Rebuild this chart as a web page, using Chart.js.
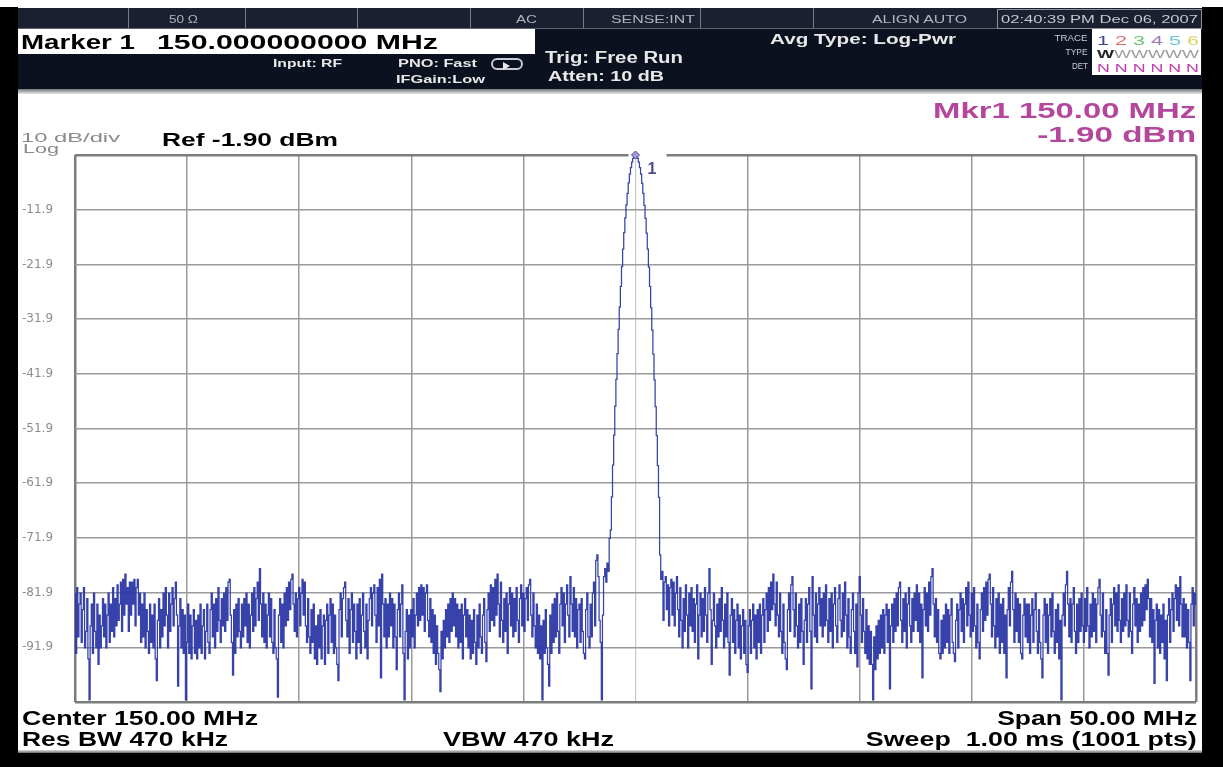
<!DOCTYPE html>
<html>
<head>
<meta charset="utf-8">
<title>Spectrum Analyzer – Swept SA</title>
<script src="https://cdn.jsdelivr.net/npm/chart.js@4.4.1/dist/chart.umd.min.js"></script>
<style>
  html, body { margin: 0; padding: 0; background: #fff; }
  #screen { position: relative; width: 1223px; height: 767px; overflow: hidden; background: #fff;
            font-family: "Liberation Sans", Arial, sans-serif; }
  .box { position: absolute; }
  .t { position: absolute; white-space: nowrap; line-height: 1; transform-origin: 0 50%; }
  .t.r { transform-origin: 100% 50%; }
  .st { color: #aeb3bd; }
  .hw { color: #e8e8e8; font-weight: bold; }
  .ft { color: #000; font-weight: bold; }
  .mk { color: #b4479c; font-weight: bold; }
  #plot { position: absolute; left: 0; top: 0; }
</style>
</head>
<body>
<div id="screen">
  <!-- instrument header -->
  <div class="box" style="left:18px;top:8px;width:1184px;height:81px;background:#0c1120"></div>
  <div class="box" style="left:18px;top:8px;width:1184px;height:20px;background:#1b2030;border-bottom:1px solid #5d626e"></div>
  <div class="box" style="left:128px;top:8px;width:1px;height:20px;background:#767b86"></div>
  <div class="box" style="left:245px;top:8px;width:1px;height:20px;background:#767b86"></div>
  <div class="box" style="left:357px;top:8px;width:1px;height:20px;background:#767b86"></div>
  <div class="box" style="left:470px;top:8px;width:1px;height:20px;background:#767b86"></div>
  <div class="box" style="left:583px;top:8px;width:1px;height:20px;background:#767b86"></div>
  <div class="box" style="left:700px;top:8px;width:1px;height:20px;background:#767b86"></div>
  <div class="box" style="left:813px;top:8px;width:1px;height:20px;background:#767b86"></div>
  <div class="box" style="left:997px;top:9px;width:203px;height:18px;border:1px solid #8d929c"></div>
  <div class="box" style="left:18px;top:89px;width:1184px;height:5px;background:linear-gradient(#70747c,#e8e8e8)"></div>
  <div class="box" style="left:18px;top:29px;width:517px;height:25px;background:#fff"></div>
  <div class="box" style="left:1092px;top:29px;width:109px;height:46px;background:#fff"></div>
  <!-- trigger-mode icon -->
  <div class="box" style="left:491px;top:58px;width:28px;height:8px;border:2px solid #c9ccd2;border-radius:6px"></div>
  <div class="box" style="left:503px;top:62px;width:0;height:0;border-top:4px solid transparent;border-bottom:4px solid transparent;border-left:7px solid #e8e8e8"></div>

  <!-- bezel -->
  <div class="box" style="left:18px;top:750px;width:1184px;height:3px;background:linear-gradient(#e0e0e0,#6a6a6a)"></div>
  <div class="box" style="left:0;top:7px;width:18px;height:760px;background:#000"></div>
  <div class="box" style="left:1202px;top:7px;width:21px;height:760px;background:#000"></div>
  <div class="box" style="left:0;top:753px;width:1223px;height:14px;background:#000"></div>

  <canvas id="plot" width="1223" height="767"></canvas>

  <!-- status line -->
  <div class="t st" data-x="169" data-b="23" data-f="10" data-w="29">50 Ω</div>
  <div class="t st" data-x="516" data-b="23" data-f="10" data-w="21">AC</div>
  <div class="t st" data-x="611" data-b="23" data-f="10" data-w="84">SENSE:INT</div>
  <div class="t st" data-x="872" data-b="23" data-f="10" data-w="95">ALIGN AUTO</div>
  <div class="t st" data-x="1001" data-b="23" data-f="10" data-w="197" style="color:#c4c8d0">02:40:39 PM Dec 06, 2007</div>

  <!-- active function / settings -->
  <div class="t ft" data-x="21" data-b="49" data-f="21" data-w="114">Marker 1</div>
  <div class="t ft" id="mkrEntry" data-x="157" data-b="49" data-f="21" data-w="281"></div>
  <div class="t hw" data-x="273" data-b="67" data-f="11" data-w="69">Input: RF</div>
  <div class="t hw" data-x="398" data-b="67" data-f="11" data-w="79">PNO: Fast</div>
  <div class="t hw" data-x="396" data-b="83" data-f="11" data-w="89">IFGain:Low</div>
  <div class="t hw" data-x="545" data-b="64" data-f="16" data-w="138">Trig: Free Run</div>
  <div class="t hw" data-x="548" data-b="81" data-f="15" data-w="116">Atten: 10 dB</div>
  <div class="t hw" data-x="770" data-b="44" data-f="15" data-w="186">Avg Type: Log-Pwr</div>

  <!-- trace table -->
  <div class="t r st" data-r="1088" data-b="42" data-f="9" data-w="33" style="color:#c8ccd4">TRACE</div>
  <div class="t r st" data-r="1088" data-b="56" data-f="9" data-w="22" style="color:#c8ccd4">TYPE</div>
  <div class="t r st" data-r="1088" data-b="70" data-f="9" data-w="16" style="color:#c8ccd4">DET</div>
  <div class="t" data-x="1097" data-b="45" data-f="13" data-w="102"><span style="color:#3c4696">1</span> <span style="color:#e26a6a">2</span> <span style="color:#6cc46c">3</span> <span style="color:#a07ab8">4</span> <span style="color:#6cc8d0">5</span> <span style="color:#dcd46a">6</span></div>
  <div class="t" data-x="1097" data-b="58" data-f="10" data-w="102"><span style="color:#222;font-weight:bold">W</span><span style="color:#9a9a9a">WWWWW</span></div>
  <div class="t" data-x="1097" data-b="72" data-f="11" data-w="102" style="color:#c03cb0">N N N N N N</div>

  <!-- marker readout -->
  <div class="t r mk" id="mkrFreq" data-r="1196" data-b="119" data-f="22" data-w="263"></div>
  <div class="t r mk" id="mkrAmpl" data-r="1196" data-b="143" data-f="22" data-w="159"></div>

  <!-- scale annotations -->
  <div class="t" data-x="21" data-b="142" data-f="13" data-w="99" style="color:#8a8a8a">10 dB/div</div>
  <div class="t" data-x="23" data-b="153" data-f="12" data-w="36" style="color:#8a8a8a">Log</div>
  <div class="t ft" id="refLabel" data-x="162" data-b="146" data-f="18" data-w="176"></div>

  <!-- sweep settings -->
  <div class="t ft" data-x="22" data-b="725" data-f="20" data-w="236">Center 150.00 MHz</div>
  <div class="t ft" data-x="22" data-b="746" data-f="20" data-w="206">Res BW 470 kHz</div>
  <div class="t ft" data-x="443" data-b="746" data-f="20" data-w="171">VBW 470 kHz</div>
  <div class="t r ft" data-r="1197" data-b="725" data-f="20" data-w="200">Span 50.00 MHz</div>
  <div class="t r ft" data-r="1197" data-b="746" data-f="20" data-w="331">Sweep&nbsp;&nbsp;1.00 ms (1001 pts)</div>
</div>

<script>
// Sweep: Center 150 MHz, Span 50 MHz, 1001 points
const startMHz = 125;
const stopMHz = 175;
const refLevelDbm = -1.9;
const markerMHz = 150;
const markerDbm = -1.9;

// Graticule
const freqGridMHz = [125, 130, 135, 140, 145, 150, 155, 160, 165, 170, 175];
const levelGridDbm = [-101.9, -91.9, -81.9, -71.9, -61.9, -51.9, -41.9, -31.9, -21.9, -11.9, -1.9];
const levelTickLabels = ['', '-91.9', '-81.9', '-71.9', '-61.9', '-51.9', '-41.9', '-31.9', '-21.9', '-11.9', ''];

// Trace 1 amplitude (dBm), one value per sweep point
const traceDbm = [
  -82,-93,-81,-90,-84,-82,-91,-85,-81,-92,
  -89,-83,-94,-101.5,-88,-84,-93,-82,-89,-92,
  -84,-95,-86,-92,-88,-83,-90,-84,-92,-86,
  -82,-91,-84,-89,-81,-90,-83,-88,-80.5,-87,
  -84,-80,-89,-79.5,-86,-78.5,-84,-81,-89,-80,
  -86,-80,-84,-79.5,-88,-81,-79.5,-86,-82,-91,
  -84,-90,-82,-92,-85,-89,-93,-84,-91,-86,
  -92,-84,-94,-98,-87,-83,-92,-85,-90,-82,
  -88,-81,-86,-92,-82,-89,-84,-81,-88,-83,
  -80,-86,-99,-88,-83,-92,-85,-93,-86,-101.5,
  -91,-84,-93,-86,-94,-88,-85,-93,-87,-94,
  -86,-92,-84,-93,-88,-85,-94,-89,-84,-91,
  -93,-85,-82,-90,-84,-92,-83,-89,-81,-87,
  -91,-83,-88,-82,-89,-81,-87,-80,-79.5,-86,
  -91,-97,-85,-93,-84,-90,-83,-89,-92,-84,
  -90,-83,-88,-82,-91,-84,-92,-86,-82,-89,
  -81,-88,-83,-80,-87,-77.5,-84,-90,-82,-91,
  -84,-92,-86,-82,-90,-83,-91,-93,-85,-92,
  -94,-101,-86,-83,-91,-84,-92,-82,-88,-81,
  -87,-80,-85,-79.5,-78.5,-84,-89,-82,-90,-83,
  -81,-88,-82,-79.5,-86,-80,-88,-91,-83,-90,
  -93,-85,-91,-84,-94,-88,-95,-86,-92,-85,
  -94,-88,-86,-95,-87,-84,-93,-86,-83,-91,
  -84,-93,-86,-92,-95,-98,-85,-82,-90,-83,
  -81,-80,-87,-90,-83,-93,-85,-82,-91,-84,
  -89,-94,-84,-91,-83,-93,-86,-82,-89,-92,
  -84,-94,-87,-83,-81,-88,-82,-80.5,-86,-91,
  -81,-88,-79.5,-97.5,-78.5,-84,-90,-83,-92,-84,
  -90,-82,-88,-83,-92,-84,-90,-96,-85,-82,
  -90,-84,-80.5,-93,-101.5,-89,-85,-94,-86,-92,
  -85,-90,-83,-92,-86,-82,-88,-81,-87,-80.5,
  -86,-81,-89,-82,-80.5,-87,-90,-83,-91,-85,
  -93,-86,-95,-88,-93,-96,-100,-89,-94,-87,
  -92,-85,-90,-84,-91,-83,-89,-82,-88,-83,
  -90,-84,-92,-85,-91,-84,-94,-86,-83,-90,
  -85,-92,-86,-94,-87,-93,-85,-91,-95,-86,
  -92,-84,-90,-93,-86,-83,-91,-94.5,-85,-82,
  -89,-80.5,-87,-81,-88,-79.5,-86,-78.5,-84,-90,
  -80,-87,-91,-83,-89,-82,-93,-84,-81,-88,
  -82,-90,-83,-89,-81,-87,-91,-83,-80.5,-88,
  -82,-89,-83,-81,-87,-80.5,-79.5,-86,-90,-82,
  -88,-92,-84,-93,-86,-94,-88,-101.5,-87,-93,
  -85,-92,-95,-99,-86,-93,-84,-91,-83,-90,
  -82,-89,-93,-84,-81,-88,-82,-91,-84,-80.5,
  -86,-90,-79,-84,-89,-81,-90,-83,-92,-85,
  -84,-91,-83,-89,-93,-94,-85,-82,-90,-92,
  -84,-90,-82,-80,-88,-76,-75,-79,-87,-91,
  -101.5,-86,-79,-77.5,-80,-76.5,-78,-72,-70.5,-64.4,
  -58.6,-53.1,-47.8,-42.9,-38.2,-33.8,-29.7,-25.9,-22.3,-19.1,
  -16.1,-13.4,-11.0,-8.9,-7.0,-5.4,-4.2,-3.2,-2.5,-2.0,
  -1.9,-2.1,-2.5,-3.2,-4.2,-5.4,-7.1,-8.9,-11.1,-13.5,
  -16.2,-19.1,-22.4,-25.9,-29.8,-33.9,-38.3,-43.0,-47.9,-53.2,
  -58.7,-64.5,-75,-79.5,-78,-87,-80,-79,-85,-80.5,
  -88,-81,-79.5,-86,-80,-88,-82,-79,-85,-90,
  -81,-87,-92,-83,-89,-80.5,-86,-92,-82,-88,
  -81,-89,-83,-91,-84,-80.5,-94,-86,-82,-90,
  -83,-89,-81,-86,-91,-82,-77.5,-85,-95,-87,
  -82,-88,-92,-84,-90,-83,-89,-81,-87,-92,
  -84,-90,-82,-91,-97,-86,-83,-91,-85,-93,
  -87,-84,-92,-86,-94,-88,-85,-93,-87,-95,
  -96.5,-88,-85,-93,-87,-84,-92,-86,-94,-85,
  -91,-84,-93,-86,-83,-91,-85,-82,-89,-81,
  -87,-80,-85,-78.5,-84,-88,-80,-86,-90,-82,
  -89,-93,-84,-91,-94,-96,-85,-82,-89,-80.5,
  -79,-85,-90,-82,-88,-92,-84,-91,-83,-89,
  -95,-87,-83,-91,-84,-81,-89,-99.5,-79,-86,
  -90,-82,-91,-84,-81,-88,-83,-90,-82,-88,
  -80.5,-87,-91,-83,-89,-82,-92,-84,-81,-88,
  -91,-83,-80.5,-87,-90,-82,-89,-80,-86,-92,
  -83,-90,-93,-85,-82,-89,-93,-84,-95.5,-82,
  -79,-86,-91,-83,-89,-93,-85,-94,-88,-95,
  -89,-95,-101.5,-90,-96,-88,-94,-87,-93,-86,
  -92,-85,-93,-86,-84,-91,-85,-99.5,-88,-84,
  -91,-83,-89,-82,-88,-81,-80,-87,-91,-83,
  -89,-82,-92,-84,-81,-88,-91,-83,-89,-82,
  -87,-80.5,-89,-82,-91,-84,-97.5,-85,-81,-88,
  -82,-89,-80,-86,-79,-77.5,-84,-90,-83,-91,
  -85,-93,-94,-87,-93,-86,-92,-84,-91,-85,
  -93,-86,-83,-91,-93,-94.5,-87,-84,-92,-85,
  -82,-89,-83,-91,-84,-81,-88,-80,-86,-90,
  -82,-89,-81,-88,-92,-84,-91,-94,-85,-82,
  -89,-81,-87,-80,-86,-79.5,-78.5,-84,-90,-81,
  -88,-92,-83,-90,-82,-93,-84,-91,-83,-93,
  -86,-97.5,-85,-81,-88,-80,-78,-85,-91,-82,
  -89,-83,-91,-84,-93,-94,-86,-83,-90,-84,
  -91,-84,-93,-86,-83,-91,-85,-82,-89,-93,
  -85,-91,-94,-97.5,-86,-83,-91,-84,-93,-86,
  -83,-90,-82,-89,-93,-85,-91,-84,-94,-87,
  -101.5,-86,-82,-88,-80.5,-78,-84,-90,-83,-91,
  -84,-81,-89,-93,-84,-91,-83,-89,-82,-88,
  -91,-83,-89,-81,-88,-92,-84,-90,-82,-89,
  -83,-91,-84,-81,-79.5,-86,-90,-82,-89,-93,
  -85,-93,-97,-86,-83,-91,-84,-81,-88,-82,
  -89,-80.5,-87,-91,-83,-89,-82,-88,-80.5,-87,
  -90,-82,-89,-93,-84,-81,-88,-83,-91,-84,
  -89,-82,-88,-81,-87,-80.5,-85,-79.5,-83,-90,
  -83,-91,-85,-98.5,-87,-84,-92,-85,-93,-86,
  -91,-84,-94,-87,-98,-86,-83,-91,-85,-82,
  -89,-83,-80.5,-87,-81,-88,-79,-84,-90,-83,
  -90,-84,-92,-85,-91,-98,-84,-81,-88,-82,
  -84
];

// Readout texts derived from the instrument settings
document.getElementById('mkrEntry').textContent = markerMHz.toFixed(9) + ' MHz';
document.getElementById('mkrFreq').textContent = 'Mkr1 ' + markerMHz.toFixed(2) + ' MHz';
document.getElementById('mkrAmpl').textContent = markerDbm.toFixed(2) + ' dBm';
document.getElementById('refLabel').textContent = 'Ref ' + refLevelDbm.toFixed(2) + ' dBm';

// Place each annotation on its baseline and stretch it to its slot width
function placeText() {
  document.querySelectorAll('.t').forEach(el => {
    const f = +el.dataset.f, b = +el.dataset.b;
    el.style.fontSize = f + 'px';
    el.style.top = (b - 0.85 * f) + 'px';
    if (el.dataset.r !== undefined) el.style.right = (1223 - +el.dataset.r) + 'px';
    else el.style.left = el.dataset.x + 'px';
    el.style.transform = 'none';
    const w = el.getBoundingClientRect().width;
    if (el.dataset.w && w > 0) el.style.transform = 'scaleX(' + (+el.dataset.w / w).toFixed(4) + ')';
  });
}
placeText();
if (document.fonts && document.fonts.ready) document.fonts.ready.then(placeText);

const sweepPoints = traceDbm.map((v, i) => ({
  x: startMHz + i * (stopMHz - startMHz) / (traceDbm.length - 1),
  y: v
}));

// Marker 1: diamond on the trace and its "1" tag, which blanks the top graticule line
const markerPlugin = {
  id: 'marker1',
  beforeDatasetsDraw(chart) {
    const { ctx, chartArea, scales } = chart;
    const px = scales.x.getPixelForValue(markerMHz);
    ctx.save();
    ctx.fillStyle = '#ffffff';
    ctx.fillRect(px - 7, chartArea.top - 3, 38, 6);
    ctx.restore();
  },
  afterDatasetsDraw(chart) {
    const { ctx, scales } = chart;
    const px = scales.x.getPixelForValue(markerMHz);
    const py = scales.y.getPixelForValue(markerDbm);
    ctx.save();
    ctx.beginPath();
    ctx.moveTo(px, py - 4);
    ctx.lineTo(px + 4, py);
    ctx.lineTo(px, py + 4);
    ctx.lineTo(px - 4, py);
    ctx.closePath();
    ctx.fillStyle = '#a89ad8';
    ctx.fill();
    ctx.strokeStyle = '#4a4a98';
    ctx.lineWidth = 1;
    ctx.stroke();
    ctx.font = 'bold 16px "Liberation Sans", Arial, sans-serif';
    ctx.fillStyle = '#4a4c8c';
    ctx.textBaseline = 'alphabetic';
    ctx.fillText('1', px + 12, py + 19);
    ctx.restore();
  }
};

const frameColor = '#7c7c7c';
const gridColor = '#9a9a9a';

new Chart(document.getElementById('plot'), {
  type: 'line',
  data: {
    datasets: [{
      data: sweepPoints,
      borderColor: 'rgba(44,56,166,0.95)',
      borderWidth: 1.25,
      pointRadius: 0,
      stepped: 'middle',
      fill: false
    }]
  },
  options: {
    responsive: false,
    animation: false,
    events: [],
    layout: { padding: { left: 22, right: 27, top: 155, bottom: 65 } },
    plugins: { legend: { display: false }, tooltip: { enabled: false } },
    scales: {
      x: {
        type: 'linear',
        min: startMHz,
        max: stopMHz,
        afterBuildTicks: s => { s.ticks = freqGridMHz.map(v => ({ value: v })); },
        afterFit: s => { s.height = 0; },
        ticks: { display: false },
        border: { display: false },
        grid: {
          drawTicks: false,
          color: c => (c.index === 0 || c.index === freqGridMHz.length - 1) ? frameColor
                      : (c.tick && c.tick.value === markerMHz ? '#c8c8c8' : gridColor),
          lineWidth: c => (c.index === 0 || c.index === freqGridMHz.length - 1) ? 2.5
                      : (c.tick && c.tick.value === markerMHz ? 1.2 : 1.5)
        }
      },
      y: {
        type: 'linear',
        min: levelGridDbm[0],
        max: levelGridDbm[levelGridDbm.length - 1],
        afterBuildTicks: s => { s.ticks = levelGridDbm.map(v => ({ value: v })); },
        afterFit: s => { s.width = 53; },
        border: { display: false },
        ticks: {
          crossAlign: 'far',
          padding: 0,
          color: '#8c8c8c',
          font: { family: 'DejaVu Sans', size: 12 },
          callback: (v, i) => levelTickLabels[i]
        },
        grid: {
          drawTicks: false,
          color: c => (c.index === 0 || c.index === levelGridDbm.length - 1) ? frameColor : gridColor,
          lineWidth: c => (c.index === 0 || c.index === levelGridDbm.length - 1) ? 2.5 : 1.5
        }
      }
    }
  },
  plugins: [markerPlugin]
});
</script>
</body>
</html>
